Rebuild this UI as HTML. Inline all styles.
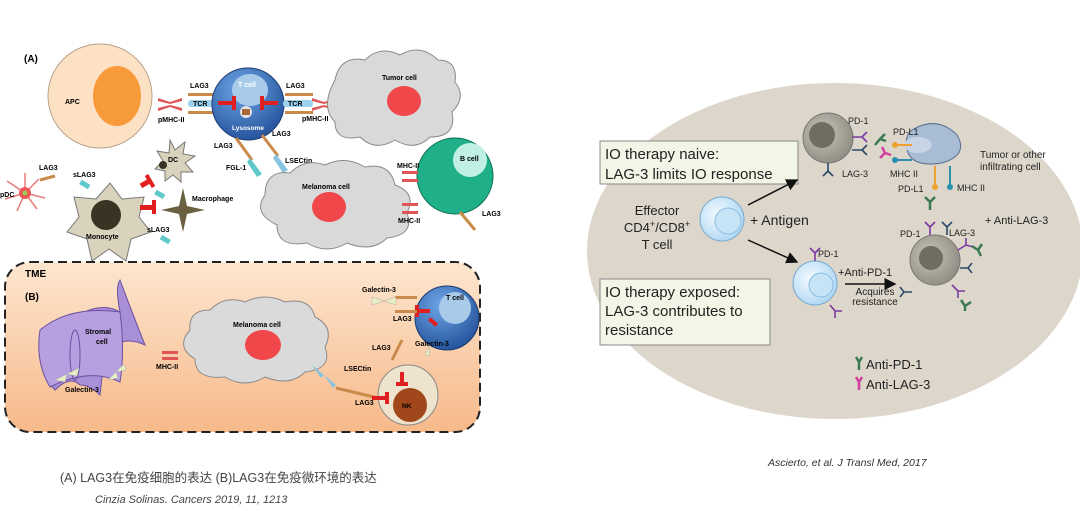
<!DOCTYPE html>
<html><head><meta charset="utf-8"><style>
html,body{margin:0;padding:0;background:#fff}
svg{display:block}
text{font-family:"Liberation Sans",Arial,sans-serif}
</style></head><body>
<svg width="1080" height="511" viewBox="0 0 1080 511" xmlns="http://www.w3.org/2000/svg">
<defs>
<radialGradient id="tc" cx="0.4" cy="0.3" r="0.8"><stop offset="0" stop-color="#6ea6e6"/><stop offset="1" stop-color="#1d4a94"/></radialGradient>
<linearGradient id="tme" x1="0" y1="0" x2="0" y2="1"><stop offset="0" stop-color="#fde6cf"/><stop offset="1" stop-color="#f7b98a"/></linearGradient>
<radialGradient id="lc" cx="0.4" cy="0.4" r="0.7"><stop offset="0" stop-color="#f4fbff"/><stop offset="1" stop-color="#a9d4f2"/></radialGradient>
<radialGradient id="gc" cx="0.4" cy="0.4" r="0.7"><stop offset="0" stop-color="#c8c4b8"/><stop offset="1" stop-color="#8a877e"/></radialGradient>
<marker id="ar" markerWidth="8" markerHeight="8" refX="7" refY="4" orient="auto"><path d="M0,0 L8,4 L0,8z" fill="#111"/></marker>
</defs>

<!-- ===== Panel A ===== -->
<text x="24" y="62" font-size="10" font-weight="bold">(A)</text>
<circle cx="100" cy="96" r="52" fill="#fde1c4" stroke="#b9a28c"/>
<ellipse cx="117" cy="96" rx="24" ry="30" fill="#f79a3a"/>
<text x="65" y="104" font-size="7" font-weight="bold">APC</text>
<!-- MHC left -->
<g fill="#e05555"><path d="M158,98 l12,4 l12,-4 v3 l-12,3 l-12,-3z"/><path d="M158,111 l12,-4 l12,4 v-3 l-12,-3 l-12,3z"/></g>
<rect x="188" y="93" width="28" height="3" fill="#c98a4a"/><rect x="188" y="111" width="28" height="3" fill="#c98a4a"/>
<rect x="188" y="100" width="30" height="7" rx="3" fill="#9dd2ee"/><text x="193" y="106" font-size="7" font-weight="bold">TCR</text>
<text x="190" y="88" font-size="7" font-weight="bold">LAG3</text>
<text x="158" y="122" font-size="7" font-weight="bold">pMHC-II</text>
<!-- T cell -->
<circle cx="248" cy="104" r="36" fill="url(#tc)" stroke="#1a3a70"/>
<ellipse cx="250" cy="90" rx="18" ry="16" fill="#a8cbea"/>
<text x="238" y="87" font-size="7" font-weight="bold" fill="#fff">T cell</text>
<circle cx="246" cy="112" r="6" fill="#e5e5e5"/><rect x="242" y="109" width="8" height="6" fill="#a86a3a"/>
<text x="232" y="130" font-size="6.5" font-weight="bold" fill="#fff">Lysosome</text>
<g fill="#e02020"><rect x="218" y="101" width="14" height="4"/><rect x="232" y="96" width="4" height="14"/><rect x="264" y="101" width="14" height="4"/><rect x="260" y="96" width="4" height="14"/></g>
<rect x="285" y="93" width="28" height="3" fill="#c98a4a"/><rect x="285" y="111" width="28" height="3" fill="#c98a4a"/>
<rect x="283" y="100" width="30" height="7" rx="3" fill="#9dd2ee"/><text x="288" y="106" font-size="7" font-weight="bold">TCR</text>
<text x="286" y="88" font-size="7" font-weight="bold">LAG3</text>
<g fill="#e05555"><path d="M312,98 l12,4 l12,-4 v3 l-12,3 l-12,-3z"/><path d="M312,111 l12,-4 l12,4 v-3 l-12,-3 l-12,3z"/></g>
<text x="302" y="121" font-size="7" font-weight="bold">pMHC-II</text>
<!-- Tumor cloud -->
<path d="M335,80 q5,-25 30,-20 q15,-15 35,-5 q20,-12 38,5 q20,0 17,22 q12,15 -3,30 q5,25 -22,25 q-15,15 -35,3 q-20,12 -35,-3 q-25,5 -25,-15 q-15,-15 0,-42z" fill="#d9d9d9" stroke="#8a8a8a"/>
<ellipse cx="404" cy="101" rx="17" ry="15" fill="#f0474a"/>
<text x="382" y="80" font-size="7" font-weight="bold">Tumor cell</text>
<!-- LAG3 diagonal links -->
<line x1="236" y1="138" x2="252" y2="160" stroke="#c98a4a" stroke-width="3"/>
<path d="M250,158 l12,16 l-5,3 l-10,-15z" fill="#5fc9c9"/>
<line x1="262" y1="135" x2="278" y2="156" stroke="#c98a4a" stroke-width="3"/>
<path d="M276,154 l12,16 l-5,3 l-10,-15z" fill="#88c4e0"/>
<text x="214" y="148" font-size="7" font-weight="bold">LAG3</text>
<text x="272" y="136" font-size="7" font-weight="bold">LAG3</text>
<text x="226" y="170" font-size="7" font-weight="bold">FGL-1</text>
<text x="285" y="163" font-size="7" font-weight="bold">LSECtin</text>
<!-- Melanoma A -->
<path d="M265,195 q0,-25 25,-22 q15,-15 35,-8 q20,-10 40,2 q25,-5 30,18 q22,8 12,28 q8,22 -20,25 q-15,15 -40,5 q-20,12 -40,0 q-30,5 -30,-18 q-25,-12 -12,-30z" fill="#d9d9d9" stroke="#8a8a8a"/>
<ellipse cx="329" cy="207" rx="17" ry="15" fill="#f0474a"/>
<text x="302" y="189" font-size="7" font-weight="bold">Melanoma cell</text>
<!-- B cell -->
<circle cx="455" cy="176" r="38" fill="#1fb08a" stroke="#0d6a50"/>
<circle cx="470" cy="160" r="17" fill="#bff0e3"/>
<text x="460" y="161" font-size="7" font-weight="bold">B cell</text>
<g fill="#e05555"><path d="M402,171 h16 v3 h-16z M402,179 h16 v3 h-16z"/><path d="M402,203 h16 v3 h-16z M402,211 h16 v3 h-16z"/></g>
<text x="397" y="168" font-size="7" font-weight="bold">MHC-II</text>
<text x="398" y="223" font-size="7" font-weight="bold">MHC-II</text>
<line x1="460" y1="212" x2="475" y2="230" stroke="#c98a4a" stroke-width="3"/>
<text x="482" y="216" font-size="7" font-weight="bold">LAG3</text>
<!-- pDC -->
<g stroke="#e77a7a" stroke-width="1.5" fill="none"><path d="M25,193 l-18,-12 M25,193 l-20,6 M25,193 l-8,18 M25,193 l12,16 M25,193 l20,5 M25,193 l14,-14 M25,193 l0,-20"/></g>
<circle cx="25" cy="193" r="6" fill="#e55"/><circle cx="25" cy="193" r="2.5" fill="#9ad05a"/>
<line x1="40" y1="180" x2="55" y2="176" stroke="#c98a4a" stroke-width="3"/>
<text x="39" y="170" font-size="7" font-weight="bold">LAG3</text>
<text x="0" y="197" font-size="7" font-weight="bold">pDC</text>
<!-- Monocyte -->
<path d="M110,183 l12,16 l22,-2 l-5,20 l12,15 l-20,7 l-5,22 l-17,-12 l-17,12 l-5,-22 l-20,-7 l12,-15 l-5,-20 l22,2z" fill="#d9d2bc" stroke="#777"/>
<circle cx="106" cy="215" r="15" fill="#3a3222"/>
<text x="86" y="239" font-size="7" font-weight="bold">Monocyte</text>
<text x="73" y="177" font-size="7" font-weight="bold">sLAG3</text>
<rect x="80" y="182" width="10" height="5" fill="#5fc9c9" transform="rotate(30 85 184)"/>
<text x="147" y="232" font-size="7" font-weight="bold">sLAG3</text>
<rect x="160" y="237" width="10" height="5" fill="#5fc9c9" transform="rotate(30 165 240)"/>
<rect x="155" y="192" width="10" height="5" fill="#5fc9c9" transform="rotate(30 160 194)"/>
<!-- DC -->
<path d="M170,140 l5,10 l10,-8 l-2,12 l12,2 l-10,7 l8,9 l-12,0 l0,10 l-8,-7 l-8,6 l0,-10 l-10,-2 l8,-8 l-6,-10 l12,2z" fill="#d9d2bc" stroke="#777"/>
<circle cx="163" cy="165" r="4" fill="#3a3222"/><text x="168" y="162" font-size="7" font-weight="bold">DC</text>
<!-- Macrophage -->
<path d="M183,188 l4,18 l18,4 l-18,4 l-4,18 l-4,-18 l-18,-4 l18,-4z" fill="#6b6040"/>
<text x="192" y="201" font-size="7" font-weight="bold">Macrophage</text>
<g fill="#e02020"><rect x="140" y="181" width="10" height="5" transform="rotate(-30 145 183)"/><rect x="148" y="174" width="4" height="14" transform="rotate(-30 150 181)"/><rect x="140" y="205" width="12" height="5"/><rect x="152" y="200" width="4" height="14"/></g>

<!-- ===== Panel B ===== -->
<rect x="5" y="262" width="475" height="170" rx="25" fill="url(#tme)" stroke="#222" stroke-width="2" stroke-dasharray="9,5"/>
<text x="25" y="277" font-size="10" font-weight="bold">TME</text>
<text x="25" y="300" font-size="10" font-weight="bold">(B)</text>
<!-- stromal -->
<path d="M70,320 q30,-20 50,-8 q-5,-25 0,-32 q15,40 25,65 q-20,-10 -40,5 l-5,45 q-10,-10 -20,-10 q-10,-10 -25,5 q-20,-20 -12,-60z" fill="#a98ed8" stroke="#6a50a0"/>
<path d="M40,330 q30,-25 80,-18 q5,40 0,70 q-30,-15 -70,5 q-15,-25 -10,-57z" fill="#b8a0e0" stroke="#6a50a0"/>
<ellipse cx="75" cy="355" rx="5" ry="25" fill="none" stroke="#6a50a0"/>
<text x="85" y="334" font-size="7" font-weight="bold">Stromal</text><text x="96" y="344" font-size="7" font-weight="bold">cell</text>
<path d="M55,380 l12,-6 l-2,8z M67,374 l12,-6 l-2,8z" fill="#e9efc4" stroke="#aaa" stroke-width="0.5"/>
<path d="M108,380 l8,-8 l2,6z M116,372 l8,-8 l2,6z" fill="#e9efc4" stroke="#aaa" stroke-width="0.5"/>
<text x="65" y="392" font-size="7" font-weight="bold">Galectin-3</text>
<!-- melanoma B -->
<path d="M190,330 q-2,-20 20,-20 q15,-15 35,-8 q20,-10 40,0 q25,-5 30,15 q20,10 10,30 q8,22 -20,25 q-15,15 -40,5 q-20,12 -40,0 q-30,3 -30,-18 q-20,-12 -5,-29z" fill="#dadada" stroke="#8a8a8a"/>
<ellipse cx="263" cy="345" rx="18" ry="15" fill="#f0474a"/>
<text x="233" y="327" font-size="7" font-weight="bold">Melanoma cell</text>
<g fill="#e05555"><rect x="162" y="351" width="16" height="3"/><rect x="162" y="357" width="16" height="3"/></g>
<text x="156" y="369" font-size="7" font-weight="bold">MHC-II</text>
<text x="344" y="371" font-size="7" font-weight="bold">LSECtin</text>
<path d="M312,365 l12,10 l-3,3z M324,375 l12,10 l-3,3z" fill="#88c4e0"/>
<line x1="336" y1="388" x2="378" y2="398" stroke="#c98a4a" stroke-width="3"/>
<text x="355" y="405" font-size="7" font-weight="bold">LAG3</text>
<!-- NK -->
<circle cx="408" cy="395" r="30" fill="#eee3cc" stroke="#888"/>
<circle cx="410" cy="405" r="17" fill="#a0481c"/>
<text x="402" y="408" font-size="6.5" font-weight="bold">NK</text>
<g fill="#e02020"><rect x="385" y="392" width="4" height="12"/><rect x="372" y="396" width="14" height="4"/><rect x="396" y="382" width="12" height="4"/><rect x="400" y="372" width="4" height="12"/></g>
<line x1="392" y1="360" x2="402" y2="340" stroke="#c98a4a" stroke-width="3"/>
<text x="372" y="350" font-size="7" font-weight="bold">LAG3</text>
<!-- T cell B -->
<circle cx="447" cy="318" r="32" fill="url(#tc)" stroke="#1a3a70"/>
<circle cx="455" cy="308" r="16" fill="#a8cbea"/>
<text x="446" y="300" font-size="7" font-weight="bold">T cell</text>
<g fill="#e02020"><rect x="415" y="305" width="4" height="12"/><rect x="418" y="309" width="12" height="4"/><rect x="428" y="320" width="10" height="4" transform="rotate(40 433 322)"/></g>
<rect x="395" y="296" width="22" height="3" fill="#c98a4a"/><rect x="395" y="310" width="22" height="3" fill="#c98a4a"/>
<path d="M372,297 l12,4 l-12,4z M384,301 l12,-4 v8z" fill="#e9efc4" stroke="#aaa" stroke-width="0.5"/>
<text x="362" y="292" font-size="7" font-weight="bold">Galectin-3</text>
<text x="393" y="321" font-size="7" font-weight="bold">LAG3</text>
<path d="M430,345 l-5,10 l4,1z" fill="#e9efc4" stroke="#aaa" stroke-width="0.5"/>
<text x="415" y="346" font-size="7" font-weight="bold">Galectin-3</text>

<text x="60" y="482" font-size="12.5" fill="#444" font-family="Liberation Sans,Noto Sans CJK SC,sans-serif">(A) LAG3在免疫细胞的表达 (B)LAG3在免疫微环境的表达</text>
<text x="95" y="503" font-size="11" font-style="italic" fill="#444">Cinzia Solinas. Cancers 2019, 11, 1213</text>

<!-- ===== Right panel ===== -->
<ellipse cx="835" cy="251" rx="248" ry="168" fill="#ddd6cb"/>
<rect x="600" y="141" width="198" height="43" fill="#f2f6e6" stroke="#888"/>
<text x="605" y="159" font-size="15" fill="#222">IO therapy naive:</text>
<text x="605" y="179" font-size="15" fill="#222">LAG-3 limits IO response</text>
<rect x="600" y="279" width="170" height="66" fill="#f2f6e6" stroke="#888"/>
<text x="605" y="297" font-size="15" fill="#222">IO therapy exposed:</text>
<text x="605" y="316" font-size="15" fill="#222">LAG-3 contributes to</text>
<text x="605" y="335" font-size="15" fill="#222">resistance</text>
<g font-size="13" fill="#222" text-anchor="middle"><text x="657" y="215">Effector</text><text x="657" y="232">CD4<tspan font-size="9" dy="-5">+</tspan><tspan dy="5">/CD8</tspan><tspan font-size="9" dy="-5">+</tspan></text><text x="657" y="249">T cell</text></g>
<circle cx="722" cy="219" r="22" fill="url(#lc)" stroke="#7aaad0"/><circle cx="728" cy="221" r="13" fill="#c6e4f6" stroke="#8bbde0"/>
<text x="750" y="225" font-size="14" fill="#222">+ Antigen</text>
<line x1="748" y1="205" x2="797" y2="180" stroke="#111" stroke-width="1.5" marker-end="url(#ar)"/>
<line x1="748" y1="240" x2="797" y2="262" stroke="#111" stroke-width="1.5" marker-end="url(#ar)"/>
<!-- top gray cell -->
<circle cx="828" cy="138" r="25" fill="url(#gc)" stroke="#777"/><circle cx="822" cy="135" r="13" fill="#6f6c60"/>
<g fill="none" stroke-width="1.6"><path d="M852,137 h10 m0,0 l5,-5 m-5,5 l5,5" stroke="#7a3aa0"/><path d="M852,150 h10 m0,0 l5,-5 m-5,5 l5,5" stroke="#2a4a6a"/><path d="M828,163 v8 m0,0 l-5,5 m5,-5 l5,5" stroke="#2a4a6a"/><path d="M875,145 l5,-6 m0,0 l5,-5 m-5,5 l6,2" stroke="#3a7a50" stroke-width="2.5"/><path d="M880,158 l5,-5 m0,0 l-3,-6 m3,6 l6,2" stroke="#d040a0" stroke-width="2.5"/></g>
<text x="848" y="124" font-size="9" fill="#222">PD-1</text>
<text x="842" y="177" font-size="9" fill="#222">LAG-3</text>
<path d="M912,130 q25,-15 45,5 q12,20 -15,28 q-30,5 -35,-13 q-3,-14 5,-20z" fill="#a8bcd4" stroke="#5a7090"/>
<ellipse cx="918" cy="145" rx="14" ry="8" fill="#c6d4e6"/>
<g stroke-width="2"><line x1="895" y1="145" x2="912" y2="145" stroke="#f0a030"/><circle cx="895" cy="145" r="3" fill="#f0a030"/><line x1="895" y1="160" x2="912" y2="160" stroke="#2a90b0"/><circle cx="895" cy="160" r="3" fill="#2a90b0"/><line x1="935" y1="166" x2="935" y2="187" stroke="#f0a030"/><circle cx="935" cy="187" r="3" fill="#f0a030"/><line x1="950" y1="166" x2="950" y2="187" stroke="#2a90b0"/><circle cx="950" cy="187" r="3" fill="#2a90b0"/></g>
<text x="893" y="135" font-size="9" fill="#222">PD-L1</text>
<text x="890" y="177" font-size="9" fill="#222">MHC II</text>
<text x="898" y="192" font-size="9" fill="#222">PD-L1</text>
<text x="957" y="191" font-size="9" fill="#222">MHC II</text>
<text x="980" y="158" font-size="10" fill="#222">Tumor or other</text>
<text x="980" y="170" font-size="10" fill="#222">infiltrating cell</text>
<path d="M930,210 v-8 m0,0 l-5,-5 m5,5 l5,-5" stroke="#3a7a50" stroke-width="2.5" fill="none"/>
<text x="985" y="224" font-size="11" fill="#222">+ Anti-LAG-3</text>
<!-- bottom right cell -->
<circle cx="935" cy="260" r="25" fill="url(#gc)" stroke="#777"/><circle cx="931" cy="258" r="12" fill="#6f6c60"/>
<g fill="none" stroke-width="1.6"><path d="M930,235 v-8 m0,0 l-5,-5 m5,5 l5,-5" stroke="#7a3aa0"/><path d="M947,235 v-8 m0,0 l-5,-5 m5,5 l5,-5" stroke="#2a4a6a"/><path d="M958,250 l8,-5 m0,0 l0,-7 m0,7 l7,2" stroke="#7a3aa0"/><path d="M960,268 l8,0 m0,0 l4,-5 m-4,5 l4,5" stroke="#2a4a6a"/><path d="M912,292 h-8 m0,0 l-4,-5 m4,5 l-4,5" stroke="#2a4a6a"/><path d="M952,285 l6,6 m0,0 l0,7 m0,-7 l7,0" stroke="#7a3aa0"/><path d="M978,250 l-6,-4 m6,4 l4,-6 m-4,6 l3,6" stroke="#3a7a50" stroke-width="2.5"/><path d="M965,306 l-4,-6 m4,6 l6,-4 m-6,4 v5" stroke="#3a7a50" stroke-width="2.5"/></g>
<text x="900" y="237" font-size="9" fill="#222">PD-1</text>
<text x="949" y="236" font-size="9" fill="#222">LAG-3</text>
<!-- second light cell -->
<circle cx="815" cy="283" r="22" fill="url(#lc)" stroke="#7aaad0"/><circle cx="821" cy="285" r="12" fill="#c6e4f6" stroke="#8bbde0"/>
<g fill="none" stroke="#7a3aa0" stroke-width="1.6"><path d="M815,261 v-8 m0,0 l-5,-5 m5,5 l5,-5"/><path d="M830,305 l5,6 m0,0 l0,7 m0,-7 l7,0"/></g>
<text x="818" y="257" font-size="9" fill="#222">PD-1</text>
<text x="838" y="276" font-size="11" fill="#222">+Anti-PD-1</text>
<line x1="845" y1="284" x2="895" y2="284" stroke="#111" stroke-width="1.5" marker-end="url(#ar)"/>
<text x="875" y="295" font-size="10" fill="#222" text-anchor="middle">Acquires</text>
<text x="875" y="305" font-size="10" fill="#222" text-anchor="middle">resistance</text>
<!-- legend -->
<path d="M856,357 l3,5 l3,-5 m-3,5 v8" stroke="#3a7a50" stroke-width="2.5" fill="none"/>
<text x="866" y="369" font-size="13" fill="#222">Anti-PD-1</text>
<path d="M856,377 l3,5 l3,-5 m-3,5 v8" stroke="#d040a0" stroke-width="2.5" fill="none"/>
<text x="866" y="389" font-size="13" fill="#222">Anti-LAG-3</text>
<text x="768" y="466" font-size="10.5" font-style="italic" fill="#333">Ascierto,  et al. J Transl Med, 2017</text>
</svg>
</body></html>
